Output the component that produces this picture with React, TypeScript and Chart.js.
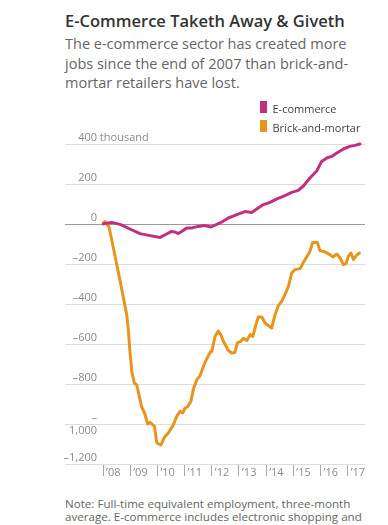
import React, { useEffect, useRef } from "react";
import { Chart, registerables } from "chart.js";

Chart.register(...registerables);

const titleText = "E-Commerce Taketh Away & Giveth";
const subtitleLines = [
  "The e-commerce sector has created more",
  "jobs since the end of 2007 than brick-and-",
  "mortar retailers have lost.",
];
const noteLines = [
  "Note: Full-time equivalent employment, three-month",
  "average. E-commerce includes electronic shopping and",
];

const seriesNames = ["E-commerce", "Brick-and-mortar"];
const seriesColors = ["#c0307d", "#e8951f"];

const ecomYears = [
  2008.01, 2008.07, 2008.32, 2008.63, 2008.99, 2009.36, 2009.73, 2010.1, 2010.34, 2010.5,
  2010.65, 2010.77, 2010.92, 2011.08, 2011.26, 2011.49, 2011.75, 2011.97, 2012.18, 2012.37,
  2012.61, 2012.92, 2013.22, 2013.47, 2013.65, 2013.9, 2014.14, 2014.44, 2014.69, 2014.94,
  2015.18, 2015.37, 2015.61, 2015.86, 2016.04, 2016.23, 2016.41, 2016.6, 2016.84, 2017.08,
  2017.27, 2017.45,
];
const ecomValues = [
  0, 3, 8, -2, -25, -48, -58, -67, -50, -38,
  -40, -48, -35, -20, -20, -12, -8, -15, -2, 10,
  30, 47, 62, 58, 75, 97, 108, 128, 142, 158,
  168, 190, 230, 265, 313, 330, 338, 355, 375, 388,
  393, 400,
];

const brickYears = [
  2008.01, 2008.07, 2008.22, 2008.38, 2008.5, 2008.63, 2008.75, 2008.87, 2008.93, 2008.99,
  2009.06, 2009.15, 2009.24, 2009.36, 2009.42, 2009.54, 2009.64, 2009.73, 2009.89, 2009.98,
  2010.13, 2010.25, 2010.4, 2010.59, 2010.71, 2010.83, 2010.93, 2011.02, 2011.1, 2011.23,
  2011.32, 2011.45, 2011.57, 2011.69, 2011.81, 2011.94, 2012.0, 2012.12, 2012.24, 2012.33,
  2012.42, 2012.52, 2012.61, 2012.73, 2012.85, 2012.94, 2013.06, 2013.16, 2013.29, 2013.41,
  2013.51, 2013.59, 2013.71, 2013.84, 2013.96, 2014.08, 2014.2, 2014.33, 2014.45, 2014.57,
  2014.69, 2014.82, 2014.94, 2015.06, 2015.25, 2015.37, 2015.49, 2015.61, 2015.71, 2015.88,
  2015.98, 2016.17, 2016.35, 2016.45, 2016.6, 2016.72, 2016.84, 2016.94, 2017.02, 2017.12,
  2017.21, 2017.31, 2017.43,
];
const brickValues = [
  5, 12, -15, -120, -200, -287, -370, -453, -530, -640,
  -740, -795, -805, -878, -915, -950, -1000, -992, -1012, -1095,
  -1105, -1068, -1045, -1003, -962, -937, -945, -920, -915, -887,
  -828, -778, -758, -712, -675, -642, -637, -562, -535, -553,
  -585, -610, -632, -645, -642, -595, -587, -572, -582, -553,
  -562, -520, -465, -465, -495, -508, -520, -453, -408, -387,
  -353, -312, -245, -228, -223, -192, -165, -137, -92, -92,
  -133, -140, -153, -165, -150, -170, -203, -198, -162, -145,
  -178, -158, -145,
];

const yearTicks = [2008, 2009, 2010, 2011, 2012, 2013, 2014, 2015, 2016, 2017];
const yearLabels = ["’08", "’09", "’10", "’11", "’12", "’13", "’14", "’15", "’16", "’17"];
const xMin = 2006.6;
const xMax = 2017.636;

const yTickValues = [400, 200, 0, -200, -400, -600, -800, -1000, -1200];
const yTickLabels = [["400"], ["200"], ["0"], ["–200"], ["–400"], ["–600"], ["–800"], ["–", "1,000"], ["–1,200"]];
const yUnitSuffix = " thousand";

const FONT = '"Open Sans", "DejaVu Sans", sans-serif';

const customPlugin = {
  id: "customLabels",
  afterDraw(chart: any) {
    const { ctx, chartArea, scales } = chart;
    const ys = scales.y;
    ctx.save();
    ctx.font = `11px ${FONT}`;
    ctx.fillStyle = "#8a8a8a";
    ctx.textBaseline = "alphabetic";
    const labelRight = chartArea.left + 32;
    ys.ticks.forEach((t: any) => {
      const idx = yTickValues.indexOf(t.value);
      if (idx < 0) return;
      const lines = yTickLabels[idx];
      const py = ys.getPixelForValue(t.value);
      ctx.textAlign = "right";
      lines.forEach((ln: string, k: number) => ctx.fillText(ln, labelRight, py - 3 + k * 12.5));
      if (idx === 0) {
        ctx.textAlign = "left";
        ctx.fillText(yUnitSuffix, labelRight, py - 3);
      }
    });
    // legend
    ctx.textAlign = "left";
    chart.data.datasets.forEach((ds: any, i: number) => {
      const sx = chartArea.right - 105;
      const sy = chartArea.top - 43 + i * 19;
      ctx.fillStyle = ds.borderColor;
      ctx.fillRect(sx, sy, 7, 12);
      ctx.fillStyle = "#444";
      ctx.fillText(ds.label, sx + 12.5, sy + 11.5);
    });
    ctx.restore();
  },
};

export default function App() {
  const canvasRef = useRef<HTMLCanvasElement | null>(null);

  useEffect(() => {
    const canvas = canvasRef.current;
    if (!canvas) return;
    const chart = new Chart(canvas, {
      type: "line",
      data: {
        datasets: [
          {
            label: seriesNames[0],
            data: ecomYears.map((x, i) => ({ x, y: ecomValues[i] })),
            borderColor: seriesColors[0],
            borderWidth: 3,
            pointRadius: 0,
            tension: 0,
            clip: false,
            borderCapStyle: "round",
            borderJoinStyle: "round",
          },
          {
            label: seriesNames[1],
            data: brickYears.map((x, i) => ({ x, y: brickValues[i] })),
            borderColor: seriesColors[1],
            borderWidth: 3,
            pointRadius: 0,
            tension: 0,
            clip: false,
            borderCapStyle: "round",
            borderJoinStyle: "round",
          },
        ] as any,
      },
      options: {
        responsive: false,
        animation: false,
        layout: { padding: { left: 65, right: 23, top: 54, bottom: 6 } },
        plugins: { legend: { display: false }, tooltip: { enabled: false } },
        scales: {
          x: {
            type: "linear",
            min: xMin,
            max: xMax,
            border: { display: false },
            grid: {
              drawOnChartArea: false,
              drawTicks: true,
              tickLength: 12,
              color: "#aaaaaa",
            },
            afterBuildTicks: (scale: any) => {
              scale.ticks = yearTicks.map((v) => ({ value: v }));
            },
            afterFit: (scale: any) => {
              scale.height = 20;
            },
            ticks: {
              align: "start",
              labelOffset: 3,
              padding: -10,
              color: "#8a8a8a",
              font: { family: FONT, size: 11 },
              maxRotation: 0,
              autoSkip: false,
              callback: (_v: any, i: number) => yearLabels[i],
            },
          },
          y: {
            type: "linear",
            min: -1200,
            max: 400,
            border: { display: false },
            grid: {
              drawTicks: false,
              color: (c: any) => (c.tick && c.tick.value === 0 ? "#9a9a9a" : "#dddddd"),
              lineWidth: 1,
            },
            afterFit: (scale: any) => {
              scale.width = 0;
            },
            ticks: { display: false, stepSize: 200 },
          },
        },
      },
      plugins: [customPlugin],
    });
    return () => chart.destroy();
  }, []);

  return (
    <div style={{ position: "absolute", left: 0, top: 0, width: 388, height: 525, overflow: "hidden", fontFamily: FONT }}>
      <div
        style={{
          position: "absolute",
          left: 65,
          top: 11,
          fontSize: 16.5,
          lineHeight: "20px",
          fontWeight: 600,
          color: "#333",
          whiteSpace: "nowrap",
        }}
      >
        {titleText}
      </div>
      <div
        style={{
          position: "absolute",
          left: 65,
          top: 34,
          fontSize: 14.5,
          lineHeight: "19.5px",
          color: "#666",
          whiteSpace: "nowrap",
        }}
      >
        {subtitleLines.map((l, i) => (
          <div key={i}>{l}</div>
        ))}
      </div>
      <canvas
        ref={canvasRef}
        width={388}
        height={400}
        style={{ position: "absolute", left: 0, top: 90, display: "block" }}
      />
      <div
        style={{
          position: "absolute",
          left: 65,
          top: 496.5,
          fontSize: 11.6,
          lineHeight: "13px",
          color: "#666",
          whiteSpace: "nowrap",
        }}
      >
        {noteLines.map((l, i) => (
          <div key={i}>{l}</div>
        ))}
      </div>
    </div>
  );
}
